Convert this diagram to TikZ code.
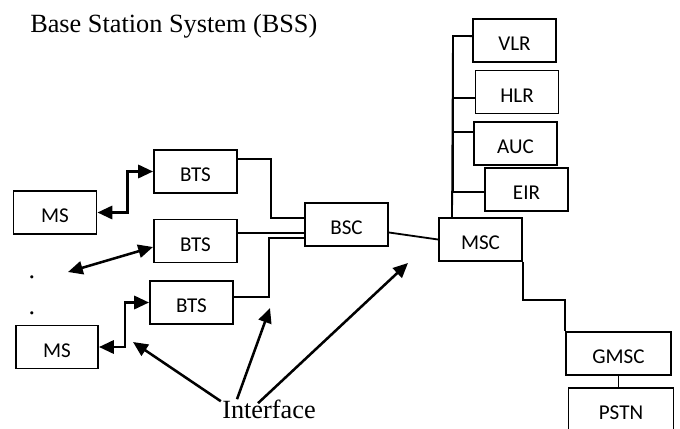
\documentclass[tikz,border=0pt]{standalone}
\usepackage{fontspec}
\setmainfont{Liberation Serif}
\newfontfamily\boxfont{Carlito}
\usetikzlibrary{arrows.meta}
\tikzset{
	unit/.style={draw,line width=1.4pt,minimum width=2.075cm,minimum height=1.075cm,inner sep=0pt,text height=0.52cm,text depth=0pt,font=\boxfont\fontsize{15}{17}\selectfont},
	wide/.style={unit,minimum width=2.625cm},
	link/.style={line width=1.3pt},
	radio/.style={line width=1.8pt,{Triangle[length=0.37cm,width=0.33cm]}-{Triangle[length=0.37cm,width=0.33cm]}},
	pointer/.style={line width=1.8pt,-{Triangle[length=0.37cm,width=0.33cm]}}
}
\begin{document}
\begin{tikzpicture}
	\useasboundingbox (0,0) rectangle (17,10.7);
	\node[anchor=base west,inner sep=0pt,font=\fontsize{18.7}{22}\selectfont] (title) at (0.75,9.875) {Base Station System (BSS)};
	\node[unit] (ms1) at (1.375,5.3875) {MS};
	\node[unit,minimum width=2.05cm] (ms2) at (1.425,2.025) {MS};
	\node[unit] (bts1) at (4.8875,6.4125) {BTS};
	\node[unit] (bts2) at (4.8875,4.675) {BTS};
	\node[unit] (bts3) at (4.7875,3.1375) {BTS};
	\node[unit] (bsc) at (8.6625,5.0875) {BSC};
	\node[unit] (msc) at (12.0125,4.7125) {MSC};
	\node[unit] (vlr) at (12.8625,9.6875) {VLR};
	\node[unit] (hlr) at (12.925,8.4) {HLR};
	\node[unit] (auc) at (12.8875,7.1125) {AUC};
	\node[unit] (eir) at (13.1625,5.9625) {EIR};
	\node[wide] (gmsc) at (15.4625,1.8625) {GMSC};
	\node[wide] (pstn) at (15.525,0.4625) {PSTN};
	\node[anchor=base,inner sep=0pt,font=\fontsize{18.7}{22}\selectfont] (dot1) at (0.8,3.74) {.};
	\node[anchor=base,inner sep=0pt,font=\fontsize{18.7}{22}\selectfont] (dot2) at (0.8,2.85) {.};
	\node[anchor=base west,inner sep=0pt,font=\fontsize{18.7}{22}\selectfont] (iface) at (5.55,0.25) {Interface};
	\coordinate (far) at (1.7,3.9);
	\coordinate (bustop) at (11.325,9.8);
	\coordinate (tip1) at (3.325,2.15);
	\coordinate (tip2) at (6.75,3.0);
	\coordinate (tip3) at (10.2,4.125);
	\draw[radio] (ms1.east) -- ++(0.75,0) |- (bts1.west);
	\draw[radio] (ms2.east) -- ++(0.65,0) |- (bts3.west);
	\draw[radio] (far) -- ([yshift=-0.15cm]bts2.west);
	\draw[link] ([yshift=-0.25cm]bts1.north east) -- ++(0.825,0) |- ([yshift=0.16cm]bsc.west);
	\draw[link] ([yshift=-0.21cm]bsc.west) -- ++(-1.7,0);
	\draw[link] ([yshift=-0.34cm]bsc.west) -- ++(-0.875,0) |- ([yshift=0.14cm]bts3.east);
	\draw[link] ([yshift=-0.2cm]bsc.east) -- (msc.west);
	\draw[link] ([xshift=0.35cm]msc.north west) -- (bustop) -- ([yshift=0.11cm]vlr.west);
	\draw[link] ([yshift=-0.15cm]hlr.west) -| (bustop);
	\draw[link] ([yshift=0.29cm]auc.west) -| (bustop);
	\draw[link] ([yshift=-0.06cm]eir.west) -| (bustop);
	\draw[link] (msc.south east) -- ++(0,-0.95) -| (gmsc.north west);
	\draw[link] (gmsc.south) -- (gmsc.south |- pstn.north);
	\draw[pointer] ([xshift=-0.03cm,yshift=-0.05cm]iface.north west) -- (tip1);
	\draw[pointer] ([xshift=0.375cm]iface.north west) -- (tip2);
	\draw[pointer] ([xshift=0.9cm,yshift=-0.1cm]iface.north west) -- (tip3);
\end{tikzpicture}
\end{document}
